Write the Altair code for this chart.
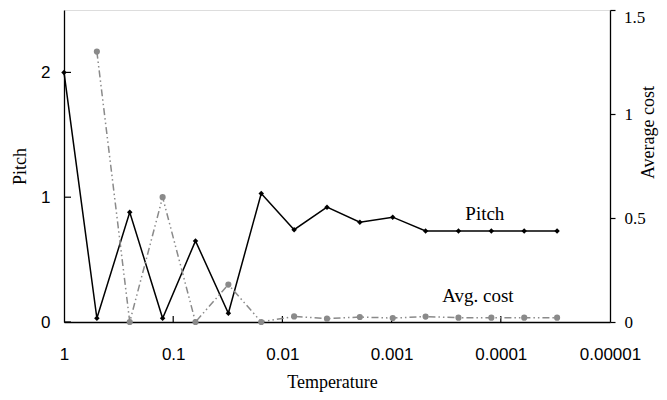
import altair as alt
import pandas as pd

# ---- data ----
temperature = [1, 0.5, 0.25, 0.125, 0.0625, 0.03125, 0.015625, 0.0078125,
               0.00390625, 0.001953125, 0.0009765625, 0.00048828125,
               0.000244140625, 0.0001220703125, 6.103515625e-05, 3.0517578125e-05]
pitch = [2.0, 0.03, 0.88, 0.03, 0.65, 0.07, 1.03, 0.74, 0.92, 0.80, 0.84,
         0.73, 0.73, 0.73, 0.73, 0.73]
avg_cost = [None, 1.30, 0.0, 0.60, 0.0, 0.18, 0.0, 0.027, 0.016, 0.024, 0.019,
            0.026, 0.021, 0.021, 0.021, 0.021]

x_ticks = [1, 0.1, 0.01, 0.001, 0.0001, 0.00001]
x_inner_ticks = [0.1, 0.01, 0.001, 0.0001]
pitch_ticks = [0, 1, 2]
cost_ticks = [0, 0.5, 1, 1.5]

pitch_label = {"text": "Pitch", "temp": 1.4e-4, "value": 0.815}
cost_label = {"text": "Avg. cost", "temp": 1.62e-4, "value": 0.096}

df = pd.DataFrame({"temp": temperature, "pitch": pitch, "cost": avg_cost})
df_cost = df.dropna(subset=["cost"])
df_xt = pd.DataFrame({"temp": x_inner_ticks})
df_yt = pd.DataFrame({"pitch": pitch_ticks})
df_top = pd.DataFrame({"cost": [cost_ticks[-1]], "text": [f"{cost_ticks[-1]:g}"]})
df_pl = pd.DataFrame([{"text": pitch_label["text"], "temp": pitch_label["temp"], "pitch": pitch_label["value"]}])
df_cl = pd.DataFrame([{"text": cost_label["text"], "temp": cost_label["temp"], "cost": cost_label["value"]}])

SERIF = "Liberation Serif"
SANS = "Liberation Sans"
GRAY = "#8a8a8a"
W, H = 546, 312

xscale = alt.Scale(type="log", domain=[1e-5, 1], reverse=True)
xaxis = alt.Axis(values=x_ticks, format=".5~f", grid=False, tickSize=0,
                 labelFont=SANS, labelFontSize=17, labelColor="black",
                 labelPadding=24, labelFlush=False, labelOverlap=False,
                 domainColor="black", domainWidth=1.3,
                 title="Temperature", titleFont=SERIF, titleFontSize=18,
                 titleFontWeight="normal", titleColor="black",
                 titleX=268, titleY=65, titleBaseline="alphabetic")
X = alt.X("temp:Q", scale=xscale, axis=xaxis)

yl_scale = alt.Scale(domain=[0, 2.5])
yl_axis = alt.Axis(values=pitch_ticks, format="~g", grid=False, tickSize=0,
                   labelFont=SANS, labelFontSize=17, labelColor="black",
                   labelPadding=14, domainColor="black", domainWidth=1.3,
                   title="Pitch", titleFont=SERIF, titleFontSize=18,
                   titleFontWeight="normal", titleColor="black",
                   titleAngle=270, titleX=-44, titleY=156,
                   titleAlign="center", titleBaseline="middle")
YL = alt.Y("pitch:Q", scale=yl_scale, axis=yl_axis)

yr_scale = alt.Scale(domain=[0, 1.5])
yr_axis = alt.Axis(orient="right", values=cost_ticks, grid=False,
                   labelExpr="datum.value >= 1.5 ? '' : format(datum.value, '~g')",
                   tickSize=5, tickColor="black", tickWidth=1.2,
                   labelFont=SERIF, labelFontSize=17, labelColor="black",
                   labelPadding=9, domainColor="black", domainWidth=1.3,
                   title="Average cost", titleFont=SERIF, titleFontSize=18,
                   titleFontWeight="normal", titleColor="black",
                   titleAngle=270, titleX=38, titleY=122,
                   titleAlign="center", titleBaseline="middle")
YR = alt.Y("cost:Q", scale=yr_scale, axis=yr_axis)

pitch_line = alt.Chart(df).mark_line(color="black", strokeWidth=1.5).encode(x=X, y=YL)
pitch_pts = alt.Chart(df).mark_point(shape="diamond", filled=True, color="black",
                                     size=30, opacity=1).encode(x=X, y=YL)
x_tick_rules = alt.Chart(df_xt).mark_rule(color="black", strokeWidth=1.2).encode(
    x=X, y=alt.value(H), y2=alt.value(H - 6))
y_tick_rules = alt.Chart(df_yt).mark_rule(color="black", strokeWidth=1.2).encode(
    y=YL, x=alt.value(0), x2=alt.value(7))
pitch_text = alt.Chart(df_pl).mark_text(font=SERIF, fontSize=19, color="black",
                                        align="center", baseline="alphabetic").encode(
    x=X, y=YL, text="text:N")

left = alt.layer(pitch_line, pitch_pts, x_tick_rules, y_tick_rules, pitch_text)

cost_line = alt.Chart(df_cost).mark_line(color=GRAY, strokeWidth=1.5,
                                         strokeDash=[7, 3, 1.5, 3, 1.5, 3]).encode(x=X, y=YR)
cost_pts = alt.Chart(df_cost).mark_circle(color=GRAY, size=38, opacity=1).encode(x=X, y=YR)
cost_text = alt.Chart(df_cl).mark_text(font=SERIF, fontSize=19, color="black",
                                       align="center", baseline="alphabetic").encode(
    x=X, y=YR, text="text:N")
top_label = alt.Chart(df_top).mark_text(font=SERIF, fontSize=17, color="black",
                                        align="left", baseline="top", dy=0).encode(
    y=YR, x=alt.value(W + 14), text="text:N")

right = alt.layer(cost_line, cost_pts, cost_text, top_label)

chart = alt.layer(left, right).resolve_scale(y="independent").properties(
    width=W, height=H,
    autosize=alt.AutoSizeParams(type="none"),
    padding={"left": 56, "top": 2, "right": 49, "bottom": 70},
).configure_view(stroke="black", strokeWidth=1.3).configure(background="white")

chart.save("out.html", embed_options={"renderer": "svg", "actions": False})
